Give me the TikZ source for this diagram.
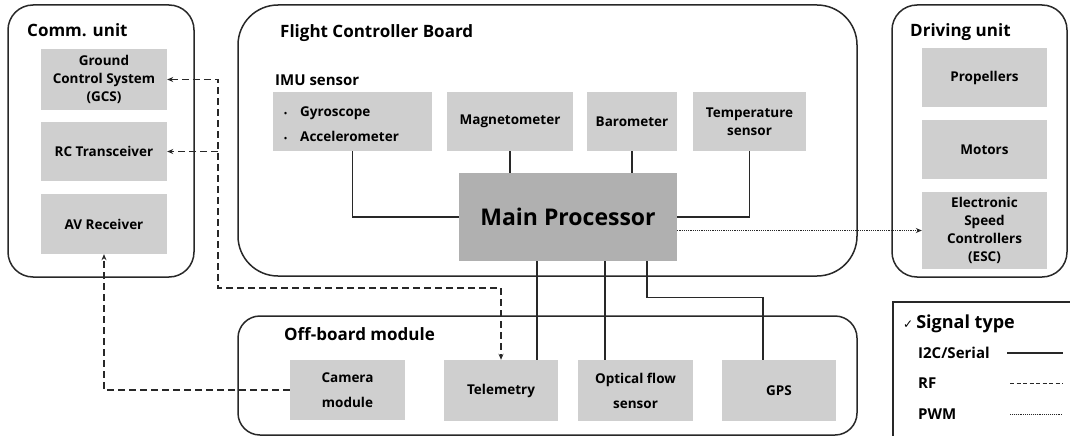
\documentclass[tikz,border=0pt]{standalone}
\usepackage{fontspec}
\setmainfont{Open Sans}
\newfontfamily\symfont{DejaVu Sans}
\usepackage{xcolor}
\usepackage{tikz}
\usetikzlibrary{arrows.meta, positioning, calc}
\definecolor{boxgray}{RGB}{207,207,207}
\definecolor{cpugray}{RGB}{176,176,176}
\definecolor{linegray}{RGB}{40,40,40}
\newcommand{\partfont}{\fontsize{13.5}{18}\selectfont\bfseries}
\newcommand{\unitfont}{\fontsize{17}{20}\selectfont\bfseries}
\newcommand{\cpufont}{\fontsize{23}{27}\selectfont\bfseries}
\newcommand{\legfont}{\fontsize{15}{18}\selectfont\bfseries}

\begin{document}
\begin{tikzpicture}[x=1pt, y=-1pt, >={Stealth[length=6pt, width=5pt]},
  unit/.style={draw=linegray, line width=1.5pt, rounded corners=#1},
  part/.style={fill=boxgray, inner sep=2pt, align=center, font=\partfont},
  head/.style={anchor=west, inner sep=0pt, font=\unitfont},
  serial/.style={draw=linegray, line width=1.3pt},
  rf/.style={draw=linegray, line width=1.5pt, dash pattern=on 7pt off 4pt},
  pwm/.style={draw=linegray, line width=1.2pt, densely dotted}]

  \useasboundingbox (0,0) rectangle (1070,436);
  \clip (0,0) rectangle (1070,436);

  % Units
  \draw[unit=25pt] (8,5) rectangle (194,277);
  \draw[unit=40pt] (238,5) rectangle (857,276);
  \draw[unit=25pt] (892,5) rectangle (1067,277);
  \draw[unit=22pt] (238,316) rectangle (857,435);

  % Comm. unit
  \node[head] at (27,30) {Comm. unit};
  \node[part, minimum width=126pt, minimum height=61pt] (gcs) at (104,79.5) {Ground\\Control System\\(GCS)};
  \node[part, minimum width=126pt, minimum height=59pt] (rc) at (104,151.5) {RC Transceiver};
  \node[part, minimum width=126pt, minimum height=60pt] (av) at (104,224) {AV Receiver};

  % Flight controller board
  \node[head] at (280,33) {Flight Controller Board};
  \node[anchor=west, inner sep=0pt, font=\fontsize{15}{18}\selectfont\bfseries] at (275,80) {IMU sensor};
  \node[part, minimum width=159pt, minimum height=59pt] (imu) at (352.5,121.5) {};
  \node[anchor=west, align=left, inner sep=0pt, font=\fontsize{13.5}{25}\selectfont\bfseries]
    at (284,124) {{\fontsize{8}{8}\selectfont\textbullet}\hspace{13pt}Gyroscope\\{\fontsize{8}{8}\selectfont\textbullet}\hspace{13pt}Accelerometer};
  \node[part, minimum width=126pt, minimum height=59pt] (mag) at (510,121.5) {Magnetometer};
  \node[part, minimum width=90pt, minimum height=59pt] (baro) at (632,121.5) {Barometer};
  \node[part, minimum width=113pt, minimum height=59pt] (temp) at (749.5,121.5) {Temperature\\sensor};
  \node[part, fill=cpugray, minimum width=218pt, minimum height=88pt, font=\cpufont] (cpu) at (568,217) {Main Processor};

  % Driving unit
  \node[head] at (910,32) {Driving unit};
  \node[part, minimum width=125pt, minimum height=59pt] (prop) at (984.5,77.5) {Propellers};
  \node[part, minimum width=125pt, minimum height=59pt] (motor) at (984.5,149.5) {Motors};
  \node[part, minimum width=125pt, minimum height=77pt] (esc) at (984.5,230.5) {Electronic\\Speed\\Controllers\\(ESC)};

  % Off-board module
  \node[head] at (284,334) {Off-board module};
  \node[part, minimum width=115pt, minimum height=60pt] (cam) at (347.5,390) {Camera\\[7pt]module};
  \node[part, minimum width=114pt, minimum height=61pt] (tele) at (501,390.5) {Telemetry};
  \node[part, minimum width=115pt, minimum height=61pt] (opt) at (635.5,390.5) {Optical flow\\[7pt]sensor};
  \node[part, minimum width=114pt, minimum height=61pt] (gps) at (779,390.5) {GPS};

  % I2C/Serial
  \draw[serial] (imu.south) |- (cpu.west);
  \draw[serial] (temp.south) |- (cpu.east);
  \foreach \n in {mag, baro}
    \draw[serial] (\n.south) -- (\n.south |- cpu.north);
  \coordinate (telein) at ($(tele.north)+(36,0)$);
  \coordinate (optin) at ($(opt.north)+(-30.5,0)$);
  \coordinate (gpsin) at ($(gps.north)+(-16,0)$);
  \coordinate (gpsout) at ($(cpu.south)+(79,0)$);
  \draw[serial] (telein) -- (telein |- cpu.south);
  \draw[serial] (optin) -- (optin |- cpu.south);
  \draw[serial] (gpsout) -- ++(0,36) -| (gpsin);

  % RF
  \coordinate (rfbus) at (218,288);
  \draw[rf, <->] (gcs.east) -| (rfbus) -| (tele.north);
  \draw[rf, ->] (rc.east -| rfbus) -- (rc.east);
  \draw[rf, ->] (cam.west) -| (av.south);

  % PWM
  \draw[pwm, ->] (cpu.east |- esc.west) -- (esc.west);

  % Legend
  \draw[linegray, line width=1.3pt] (893,302) rectangle (1090,450);
  \node[anchor=west, inner sep=0pt, font=\fontsize{18}{21}\selectfont\bfseries] (sig) at (903,324) {{\symfont\mdseries\fontsize{12}{12}\selectfont ✓}\,Signal type};
  \node[anchor=west, inner sep=0pt, font=\legfont] (legser) at (918,353) {I2C/Serial};
  \node[anchor=west, inner sep=0pt, font=\legfont] (legrf) at (918,383) {RF};
  \node[anchor=west, inner sep=0pt, font=\legfont] (legpwm) at (918,414) {PWM};
  \draw[serial] (1007,353) -- (1063,353);
  \draw[linegray, line width=0.9pt, dash pattern=on 4pt off 2.5pt] (1010,383) -- (1063,383);
  \draw[linegray, line width=0.9pt, densely dotted] (1010,414) -- (1063,414);
\end{tikzpicture}
\end{document}
